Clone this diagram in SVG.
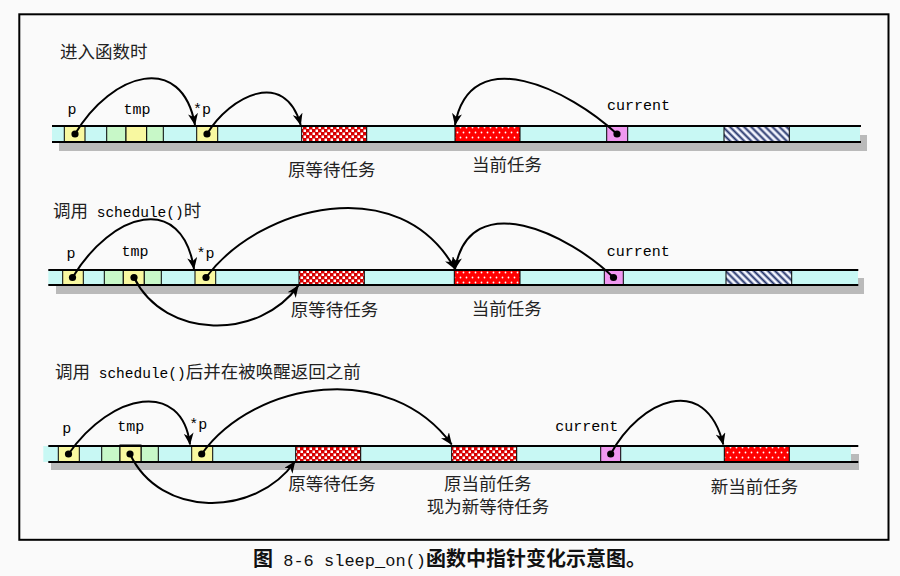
<svg xmlns="http://www.w3.org/2000/svg" width="900" height="576" viewBox="0 0 900 576">
<defs>
<style>
.bg{fill:#fafafa}
.frame{fill:none;stroke:#000;stroke-width:2}
.bar{fill:#c8f8f4}
.shadow{fill:#bababa}
.rail{stroke:#000;stroke-width:2}
.cell{stroke:#000;stroke-width:1}
.ptr{fill:#f8f8a0}
.grn{fill:#c8f8c8}
.mag{fill:#f098f0}
.chk{fill:url(#chk)}
.dts{fill:url(#dts)}
.hat{fill:url(#hat)}
.dot{fill:#000}
.lab{font-family:"Liberation Mono",monospace;font-size:15px;fill:#000;text-anchor:middle}
.cn{font-family:"Noto Sans CJK SC",sans-serif;font-size:17.5px;fill:#222}
.mono{font-family:"Liberation Mono",monospace;font-size:14.5px;fill:#000}
.cap{font-family:"Noto Sans CJK SC",sans-serif;font-size:20px;font-weight:bold;fill:#111}
.conn{fill:none;stroke:#000;stroke-width:2;marker-end:url(#ah)}
</style>
<pattern id="chk" width="6" height="6" patternUnits="userSpaceOnUse">
<rect width="6" height="6" fill="#d80000"/>
<rect x="0.5" y="0.5" width="2.5" height="2.5" fill="#fff"/>
<rect x="3.5" y="3.5" width="2.5" height="2.5" fill="#fff"/>
</pattern>
<pattern id="dts" width="6" height="10" patternUnits="userSpaceOnUse">
<rect width="6" height="10" fill="#ff0000"/>
<circle cx="1.5" cy="2.5" r="0.9" fill="#fff"/>
<circle cx="4.5" cy="7.5" r="0.9" fill="#fff"/>
</pattern>
<pattern id="hat" width="5" height="5" patternUnits="userSpaceOnUse" patternTransform="rotate(-45)">
<rect width="5" height="5" fill="#f4f6ff"/>
<line x1="1.5" y1="0" x2="1.5" y2="5" stroke="#23336a" stroke-width="2"/>
</pattern>
<marker id="ah" viewBox="0 0 12 10" refX="11.5" refY="5" markerWidth="12" markerHeight="10" markerUnits="userSpaceOnUse" orient="auto">
<path d="M0,0 L12,5 L0,10 L3.5,5 z" fill="#000"/>
</marker>
</defs>
<rect class="bg" x="0" y="0" width="900" height="576"/>
<rect class="frame" x="19.3" y="14.3" width="869.2" height="525.5"/>

<!-- Row 1 -->
<g id="row1">
<text class="cn" x="60" y="58">进入函数时</text>
<rect class="shadow" x="59" y="135" width="808" height="16"/>
<rect class="bar" x="52" y="126" width="808" height="16"/>
<g id="r1-p"><rect class="cell ptr" x="64.3" y="126" width="20.7" height="16"/><circle class="dot" cx="75" cy="134" r="3.6"/><text class="lab" x="72" y="114">p</text></g>
<g id="r1-tmp"><rect class="cell grn" x="106.7" y="126" width="19.3" height="16"/><rect class="cell ptr" x="126" y="126" width="20.7" height="16"/><rect class="cell grn" x="146.7" y="126" width="16.6" height="16"/><text class="lab" x="137" y="114">tmp</text></g>
<g id="r1-pp"><rect class="cell ptr" x="196.7" y="126" width="21" height="16"/><circle class="dot" cx="207" cy="134" r="3.6"/><text class="lab" x="202" y="114">*p</text></g>
<g id="r1-wait"><rect class="cell chk" x="301.7" y="126" width="65" height="16"/><text class="cn" x="288" y="176">原等待任务</text></g>
<g id="r1-curtask"><rect class="cell dts" x="455" y="126" width="65" height="16"/><text class="cn" x="472" y="171">当前任务</text></g>
<g id="r1-current"><rect class="cell mag" x="606.7" y="126" width="21" height="16"/><circle class="dot" cx="617" cy="134" r="3.6"/><text class="lab" x="638.5" y="110">current</text></g>
<g id="r1-other"><rect class="cell hat" x="724" y="126" width="65.3" height="16"/></g>
<line class="rail" x1="52" y1="126" x2="861" y2="126"/>
<line class="rail" x1="52" y1="142" x2="861" y2="142"/>
</g>

<!-- Row 2 -->
<g id="row2">
<text class="cn" x="53" y="217">调用<tspan class="mono"> schedule()</tspan>时</text>
<rect class="shadow" x="56" y="278" width="808" height="16"/>
<rect class="bar" x="48.3" y="270" width="809.7" height="15"/>
<g id="r2-p"><rect class="cell ptr" x="62.7" y="270" width="20.6" height="15"/><circle class="dot" cx="72.5" cy="277.5" r="3.6"/><text class="lab" x="71" y="258">p</text></g>
<g id="r2-tmp"><rect class="cell grn" x="104.3" y="270" width="19" height="15"/><rect class="cell ptr" x="123.3" y="270" width="21" height="15"/><rect class="cell grn" x="144.3" y="270" width="17" height="15"/><circle class="dot" cx="134" cy="277.5" r="3.6"/><text class="lab" x="135" y="256">tmp</text></g>
<g id="r2-pp"><rect class="cell ptr" x="195" y="270" width="20.7" height="15"/><circle class="dot" cx="206" cy="277.5" r="3.6"/><text class="lab" x="205.5" y="258">*p</text></g>
<g id="r2-wait"><rect class="cell chk" x="299" y="270" width="65.3" height="15"/><text class="cn" x="290.7" y="315.5">原等待任务</text></g>
<g id="r2-curtask"><rect class="cell dts" x="454.3" y="270" width="65.7" height="15"/><text class="cn" x="471.7" y="314.5">当前任务</text></g>
<g id="r2-current"><rect class="cell mag" x="604.3" y="270" width="19" height="15"/><circle class="dot" cx="613.5" cy="277.5" r="3.6"/><text class="lab" x="638.3" y="256">current</text></g>
<g id="r2-other"><rect class="cell hat" x="726" y="270" width="65.7" height="15"/></g>
<line class="rail" x1="48.3" y1="270" x2="858.3" y2="270"/>
<line class="rail" x1="48.3" y1="285" x2="858.3" y2="285"/>
</g>

<!-- Row 3 -->
<g id="row3">
<text class="cn" x="55" y="378">调用<tspan class="mono"> schedule()</tspan>后并在被唤醒返回之前</text>
<rect class="shadow" x="51" y="454" width="808" height="16"/>
<rect class="bar" x="43.3" y="446" width="807.7" height="16"/>
<g id="r3-p"><rect class="cell ptr" x="58.3" y="446" width="21" height="16"/><circle class="dot" cx="68.5" cy="454" r="3.6"/><text class="lab" x="66.7" y="433">p</text></g>
<g id="r3-tmp"><rect class="cell grn" x="101.7" y="446" width="18.3" height="16"/><rect class="cell grn" x="141" y="446" width="17.3" height="16"/><rect class="cell ptr" x="120" y="445" width="21" height="17"/><circle class="dot" cx="130" cy="454" r="3.6"/><text class="lab" x="130.7" y="431">tmp</text></g>
<g id="r3-pp"><rect class="cell ptr" x="191.7" y="446" width="21" height="16"/><circle class="dot" cx="201.7" cy="454" r="3.6"/><text class="lab" x="198.3" y="429">*p</text></g>
<g id="r3-wait"><rect class="cell chk" x="295.7" y="446" width="65" height="16"/><text class="cn" x="288.3" y="490">原等待任务</text></g>
<g id="r3-oldcur"><rect class="cell chk" x="451.7" y="446" width="65" height="16"/><text class="cn" x="444" y="490">原当前任务</text><text class="cn" x="426.7" y="513">现为新等待任务</text></g>
<g id="r3-current"><rect class="cell mag" x="600.7" y="446" width="20" height="16"/><circle class="dot" cx="610.7" cy="454" r="3.6"/><text class="lab" x="586.7" y="431">current</text></g>
<g id="r3-newcur"><rect class="cell dts" x="724.3" y="446" width="65" height="16"/><text class="cn" x="710.7" y="493">新当前任务</text></g>
<line class="rail" x1="48.3" y1="446" x2="858.3" y2="446"/>
<line class="rail" x1="48.3" y1="462" x2="858.3" y2="462"/>
</g>

<g id="connectors">
<path class="conn" d="M75,134 C112,72 182,52 195,125"/>
<path class="conn" d="M207,134 C230,96 285,68 300.7,125"/>
<path class="conn" d="M617,134 C570,90 470,40 455,125"/>

<path class="conn" d="M72.5,277.5 C112,212 182,192 194,269"/>
<path class="conn" d="M206,277.5 C260,205 400,170 455,269"/>
<path class="conn" d="M134,277.5 C165,340 260,340 298.3,285.7"/>
<path class="conn" d="M613.5,277.5 C570,235 470,185 455,269"/>

<path class="conn" d="M68.5,454 C112,392 182,380 190,444.5"/>
<path class="conn" d="M201.7,454 C255,380 390,360 451.7,444.5"/>
<path class="conn" d="M130,454 C160,518 255,518 295,461.5"/>
<path class="conn" d="M610.7,454 C640,400 705,372 723.3,444.5"/>
</g>

<text class="cap" x="253" y="566">图<tspan font-family="Liberation Mono, monospace" font-size="17" font-weight="normal"> 8-6 sleep_on()</tspan>函数中指针变化示意图。</text>
</svg>
